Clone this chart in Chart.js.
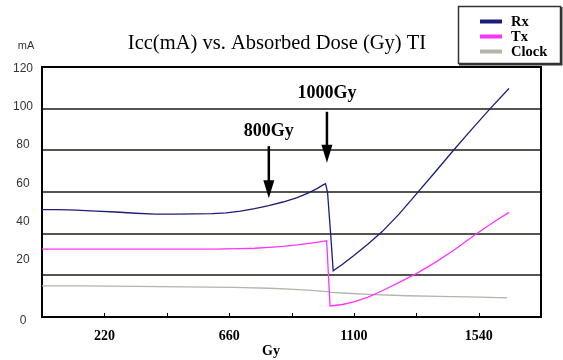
<!DOCTYPE html>
<html>
<head>
<meta charset="utf-8">
<script src="https://cdn.jsdelivr.net/npm/chart.js@4/dist/chart.umd.min.js"></script>
<style>
  html, body { margin: 0; padding: 0; background: #fff; }
  canvas { display: block; }
</style>
</head>
<body>
<canvas id="iccChart" width="563" height="360"></canvas>
<script>
// Rx current (mA) vs dose (Gy)
const rxGy = [0, 60, 120, 190, 260, 330, 400, 470, 540, 600, 650, 700, 750, 800, 850, 900, 940, 970, 990, 1000, 1007, 1018, 1027, 1060, 1100, 1150, 1200, 1260, 1320, 1380, 1450, 1510, 1580, 1647];
const rxMa = [51.5, 51.5, 51.3, 50.8, 50.4, 49.8, 49.4, 49.4, 49.5, 49.6, 50.0, 50.8, 52.0, 53.5, 55.2, 57.3, 59.6, 61.6, 63.3, 64.0, 60.0, 40.0, 22.2, 25.3, 29.5, 35.0, 41.0, 49.5, 59.0, 68.5, 79.8, 89.2, 99.9, 109.7];

// Tx
const txGy = [0, 300, 600, 700, 750, 800, 850, 900, 950, 990, 1004, 1016, 1060, 1100, 1150, 1200, 1260, 1320, 1380, 1450, 1535, 1600, 1647];
const txMa = [32.6, 32.6, 32.6, 32.8, 33.0, 33.4, 33.9, 34.6, 35.5, 36.3, 36.6, 5.3, 6.0, 7.3, 9.5, 12.6, 16.6, 20.8, 25.6, 31.8, 40.2, 46.2, 50.2];

// Clock
const clockGy = [0, 150, 335, 500, 675, 800, 875, 950, 1006, 1020, 1076, 1150, 1288, 1400, 1547, 1641];
const clockMa = [14.9, 14.9, 14.7, 14.5, 14.2, 13.8, 13.4, 12.8, 12.2, 11.8, 11.4, 10.9, 10.2, 9.9, 9.5, 9.2];

const xTickLabels = ["220", "660", "1100", "1540"];
const yTickValues = [120, 100, 80, 60, 40, 20, 0];

// arrows pointing at the dose marks
const noteText = ["800Gy", "1000Gy"];
const noteGy = [800, 1005];
const noteTop = [82, 98.5];
const noteTip = [57, 74];
const noteLabelMa = [89, 107.4];

const seriesNames = ["Rx", "Tx", "Clock"];
const seriesColors = ["#1c1c7c", "#ff33ff", "#b4b4ac"];

function toPoints(xs, ys) {
  return xs.map((x, i) => ({ x: x, y: ys[i] }));
}

const serif = "'Liberation Serif', 'Times New Roman', serif";
const sans = "'Liberation Sans', Arial, sans-serif";

// draws frame, inner tick marks, y labels, title, notes and legend
const decorPlugin = {
  id: "decor",
  afterDraw(chart) {
    const ctx = chart.ctx;
    const area = chart.chartArea;
    const xs = chart.scales.x;
    const ys = chart.scales.y;
    ctx.save();

    // top and right frame
    ctx.strokeStyle = "#000";
    ctx.lineWidth = 2;
    ctx.beginPath();
    ctx.moveTo(area.left, area.top);
    ctx.lineTo(area.right, area.top);
    ctx.lineTo(area.right, area.bottom);
    ctx.stroke();

    // x tick marks pointing into the plot
    ctx.lineWidth = 1;
    for (let v = 220; v < 1760; v += 220) {
      const px = Math.round(xs.getPixelForValue(v)) + 0.5;
      ctx.beginPath();
      ctx.moveTo(px, area.bottom);
      ctx.lineTo(px, area.bottom - 4);
      ctx.stroke();
    }

    // y labels sit a little above their lines, like the original
    ctx.fillStyle = "#333";
    ctx.font = "12px " + sans;
    ctx.textAlign = "center";
    ctx.textBaseline = "middle";
    yTickValues.forEach(v => {
      const shifted = v === 0 ? -1.8 : 27.4 + (v - 20) * 0.92;
      ctx.fillText(String(v), 23, ys.getPixelForValue(shifted));
    });
    ctx.font = "11px " + sans;
    ctx.fillText("mA", 26, 46);

    // title
    ctx.fillStyle = "#000";
    ctx.font = "20.5px " + serif;
    ctx.fillText("Icc(mA) vs. Absorbed Dose (Gy) TI", 277, 44);

    // x axis title
    ctx.font = "bold 14px " + serif;
    ctx.fillText("Gy", 271, 351);

    // annotation arrows
    noteText.forEach((t, i) => {
      const px = xs.getPixelForValue(noteGy[i]);
      const yTop = ys.getPixelForValue(noteTop[i]);
      const yTip = ys.getPixelForValue(noteTip[i]);
      ctx.strokeStyle = "#000";
      ctx.lineWidth = 2.5;
      ctx.beginPath();
      ctx.moveTo(px, yTop);
      ctx.lineTo(px, yTip - 14);
      ctx.stroke();
      ctx.fillStyle = "#000";
      ctx.beginPath();
      ctx.moveTo(px - 5.5, yTip - 18);
      ctx.lineTo(px + 5.5, yTip - 18);
      ctx.lineTo(px, yTip);
      ctx.closePath();
      ctx.fill();
      ctx.font = "bold 18px " + serif;
      ctx.fillText(t, px, ys.getPixelForValue(noteLabelMa[i]));
    });

    // legend box
    ctx.fillStyle = "#fff";
    ctx.fillRect(458, 6, 103, 58);
    ctx.strokeStyle = "#333";
    ctx.lineWidth = 1.5;
    ctx.strokeRect(458.5, 6.5, 102, 57);
    ctx.lineWidth = 2;
    ctx.beginPath();
    ctx.moveTo(459, 64.5);
    ctx.lineTo(561.5, 64.5);
    ctx.lineTo(561.5, 7);
    ctx.stroke();
    ctx.textAlign = "left";
    ctx.font = "bold 14.5px " + serif;
    chart.data.datasets.forEach((ds, i) => {
      const ly = 21.5 + i * 15;
      ctx.strokeStyle = ds.borderColor;
      ctx.lineWidth = 4;
      ctx.beginPath();
      ctx.moveTo(480, ly);
      ctx.lineTo(502, ly);
      ctx.stroke();
      ctx.fillStyle = "#000";
      ctx.fillText(ds.label, 511, ly + 1);
    });

    ctx.restore();
  }
};

new Chart(document.getElementById("iccChart"), {
  type: "line",
  data: {
    datasets: [
      { label: seriesNames[0], data: toPoints(rxGy, rxMa), borderColor: seriesColors[0], borderWidth: 1.3 },
      { label: seriesNames[1], data: toPoints(txGy, txMa), borderColor: seriesColors[1], borderWidth: 1.3 },
      { label: seriesNames[2], data: toPoints(clockGy, clockMa), borderColor: seriesColors[2], borderWidth: 1.3 }
    ]
  },
  options: {
    responsive: false,
    animation: false,
    devicePixelRatio: 1,
    layout: { padding: { left: 42, top: 67, right: 22, bottom: 0 } },
    elements: { point: { radius: 0 }, line: { tension: 0 } },
    plugins: {
      legend: { display: false },
      title: { display: false },
      tooltip: { enabled: false }
    },
    scales: {
      x: {
        type: "linear",
        min: 0,
        max: 1760,
        afterFit: scale => { scale.height = 43; },
        afterBuildTicks: scale => {
          scale.ticks = [];
          for (let v = 0; v <= 1760; v += 220) scale.ticks.push({ value: v });
        },
        ticks: {
          autoSkip: false,
          maxRotation: 0,
          padding: 11,
          color: "#000",
          font: { family: serif, size: 14, weight: "bold" },
          callback: v => (xTickLabels.includes(String(v)) ? String(v) : "")
        },
        grid: { drawOnChartArea: false, drawTicks: false },
        border: { color: "#000", width: 2 }
      },
      y: {
        min: 0,
        max: 120,
        afterFit: scale => { scale.width = 0; },
        ticks: { stepSize: 20, display: false },
        grid: { color: "#55554f", lineWidth: 2, drawTicks: false },
        border: { color: "#000", width: 2 }
      }
    }
  },
  plugins: [decorPlugin]
});
</script>
</body>
</html>
